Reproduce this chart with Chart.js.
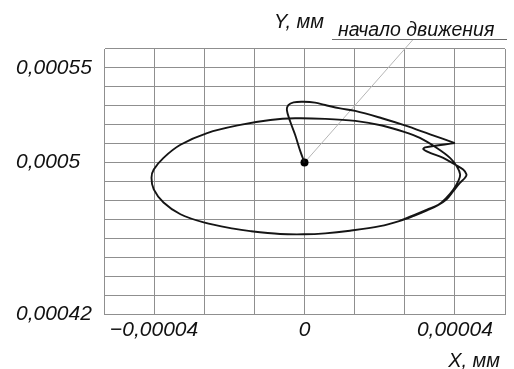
<!DOCTYPE html>
<html>
<head>
<meta charset="utf-8">
<script src="https://cdn.jsdelivr.net/npm/chart.js@4/dist/chart.umd.min.js"></script>
<style>
  html, body { margin: 0; padding: 0; background: #ffffff; }
  canvas { display: block; }
</style>
</head>
<body>
<canvas id="chart" width="514" height="369"></canvas>
<script>
// Trajectory of the point, X and Y in mm.
// Start-up part: from the starting point up into the loop and out to the sharp tip.
const riseX = [0, -1.1e-6, -2.5e-6, -3.8e-6, -4.7e-6, -4.3e-6, -2.9e-6, -0.3e-6,
  2.8e-6, 5.5e-6, 9.5e-6, 1.35e-5, 2.06e-5, 2.67e-5, 3.34e-5, 4.0e-5];
const riseY = [0.0005, 0.0005059, 0.0005147, 0.0005217, 0.0005278, 0.0005304, 0.0005318, 0.0005321,
  0.0005317, 0.0005304, 0.0005286, 0.0005273, 0.0005234, 0.0005196, 0.0005149, 0.0005103];

// From the tip: zigzag, then the steady elliptical orbit.
const orbitX = [4.0e-5, 3.21e-5, 3.16e-5, 3.34e-5, 3.69e-5, 4.0e-5, 4.22e-5, 4.31e-5, 4.27e-5,
  4.14e-5, 3.96e-5, 3.78e-5, 3.55e-5, 3.26e-5, 2.91e-5, 2.54e-5, 2.01e-5, 1.21e-5, 5.5e-6, -0.3e-6,
  -6.5e-6, -1.44e-5, -1.89e-5, -2.68e-5, -3.3e-5, -3.75e-5, -4.01e-5, -4.07e-5, -4.01e-5,
  -3.75e-5, -3.3e-5, -2.59e-5, -1.71e-5, -9.1e-6, -2.5e-6, 5.5e-6, 1.35e-5, 2.06e-5, 2.67e-5,
  3.07e-5, 3.52e-5, 3.87e-5, 4.05e-5, 4.14e-5, 4.09e-5, 3.96e-5, 3.76e-5, 3.56e-5, 3.26e-5,
  2.91e-5, 2.54e-5];
const orbitY = [0.0005103, 0.000508, 0.0005071, 0.0005051, 0.0005025, 0.000499, 0.0004963, 0.0004937, 0.000492,
  0.0004894, 0.000485, 0.0004806, 0.0004775, 0.0004748, 0.0004719, 0.0004692, 0.0004664, 0.000464, 0.0004626, 0.0004621,
  0.0004623, 0.0004638, 0.0004651, 0.0004684, 0.0004727, 0.0004789, 0.0004858, 0.000492, 0.0004963,
  0.0005025, 0.0005094, 0.0005156, 0.0005199, 0.0005225, 0.0005234, 0.0005231, 0.000522, 0.0005196, 0.0005161,
  0.000513, 0.0005077, 0.0005025, 0.0004981, 0.0004937, 0.0004902, 0.0004858, 0.0004811, 0.0004777, 0.0004751,
  0.0004722, 0.0004693];

// Starting point of the motion
const startX = [0];
const startY = [0.0005];

// Tick labels
const xTickValues = [-0.00004, 0, 0.00004];
const xTickLabels = ['\u22120,00004', '0', '0,00004'];
const yTickValues = [0.00042, 0.0005, 0.00055];
const yTickLabels = ['0,00042', '0,0005', '0,00055'];

// Grid layout: x cells of 0.00004/3, y cells of 0.00001
const xCell = 0.00004 / 3;
const xCells = 4;          // cells on each side of zero
const yMin = 0.00042, yMax = 0.00056, yCell = 0.00001;

const texts = {
  yTitle: 'Y, мм',
  xTitle: 'X, мм',
  note: 'начало движения'
};

const toPoints = (xs, ys) => xs.map((x, i) => ({ x: x, y: ys[i] }));

const lineColor = '#151515';
const gridColor = '#8f8f8f';
const tickFont = { family: 'Liberation Sans', size: 21, style: 'italic' };

function labelFor(values, labels, v) {
  for (let i = 0; i < values.length; i++) {
    if (Math.abs(values[i] - v) < 1e-9) return labels[i];
  }
  return '';
}

const annotations = {
  id: 'annotations',
  beforeDatasetsDraw(chart) {
    const { ctx, chartArea, scales } = chart;
    const px = scales.x.getPixelForValue(startX[0]);
    const py = scales.y.getPixelForValue(startY[0]);
    const lineY = chartArea.top - 10;
    ctx.save();
    ctx.strokeStyle = '#b5b5b5';
    ctx.lineWidth = 1;
    ctx.beginPath();
    ctx.moveTo(px, py);
    ctx.lineTo(px + 109, lineY);
    ctx.stroke();
    ctx.restore();
  },
  afterDraw(chart) {
    const { ctx, chartArea } = chart;
    const lineY = chartArea.top - 10;
    ctx.save();
    ctx.fillStyle = '#111111';
    ctx.textBaseline = 'alphabetic';
    ctx.font = 'italic 20px "Liberation Sans"';
    ctx.textAlign = 'left';
    ctx.fillText(texts.yTitle, 274, 28);
    ctx.font = 'italic 19.5px "Liberation Sans"';
    ctx.fillText(texts.note, 338, 36);
    ctx.strokeStyle = '#6a6a6a';
    ctx.lineWidth = 1;
    ctx.beginPath();
    ctx.moveTo(332, lineY + 0.5);
    ctx.lineTo(chartArea.right + 2, lineY + 0.5);
    ctx.stroke();
    ctx.font = 'italic 20px "Liberation Sans"';
    ctx.textAlign = 'right';
    ctx.fillText(texts.xTitle, 500, 367);
    ctx.restore();
  }
};

new Chart(document.getElementById('chart'), {
  type: 'scatter',
  data: {
    datasets: [
      {
        data: toPoints(riseX, riseY),
        showLine: true,
        borderColor: lineColor,
        borderWidth: 1.9,
        pointRadius: 0,
        tension: 0.35
      },
      {
        data: toPoints(orbitX, orbitY),
        showLine: true,
        borderColor: lineColor,
        borderWidth: 1.9,
        pointRadius: 0,
        tension: 0.35
      },
      {
        data: toPoints(startX, startY),
        showLine: false,
        pointRadius: 4,
        pointBackgroundColor: '#000000',
        pointBorderColor: '#000000',
        pointBorderWidth: 0
      }
    ]
  },
  options: {
    responsive: false,
    animation: false,
    layout: { padding: { left: 16, top: 49, right: 9, bottom: 0 } },
    plugins: {
      legend: { display: false },
      tooltip: { enabled: false }
    },
    scales: {
      x: {
        type: 'linear',
        min: -xCells * xCell,
        max: xCells * xCell,
        afterBuildTicks(scale) {
          const t = [];
          for (let k = -xCells; k <= xCells; k++) t.push({ value: k * xCell });
          scale.ticks = t;
        },
        afterFit(scale) { scale.height = 55; },
        grid: { color: gridColor, lineWidth: 1, drawTicks: false },
        border: { display: true, color: gridColor, width: 1 },
        ticks: {
          color: '#111111',
          font: tickFont,
          padding: 4,
          maxRotation: 0,
          autoSkip: false,
          callback: (v) => labelFor(xTickValues, xTickLabels, v)
        }
      },
      y: {
        type: 'linear',
        min: yMin,
        max: yMax,
        afterBuildTicks(scale) {
          const t = [];
          const n = Math.round((yMax - yMin) / yCell);
          for (let k = 0; k <= n; k++) t.push({ value: yMin + k * yCell });
          scale.ticks = t;
        },
        afterFit(scale) { scale.width = 88; },
        grid: { color: gridColor, lineWidth: 1, drawTicks: false },
        border: { display: true, color: gridColor, width: 1 },
        ticks: {
          color: '#111111',
          font: tickFont,
          crossAlign: 'far',
          padding: 4,
          autoSkip: false,
          callback: (v) => labelFor(yTickValues, yTickLabels, v)
        }
      }
    }
  },
  plugins: [annotations]
});
</script>
</body>
</html>
